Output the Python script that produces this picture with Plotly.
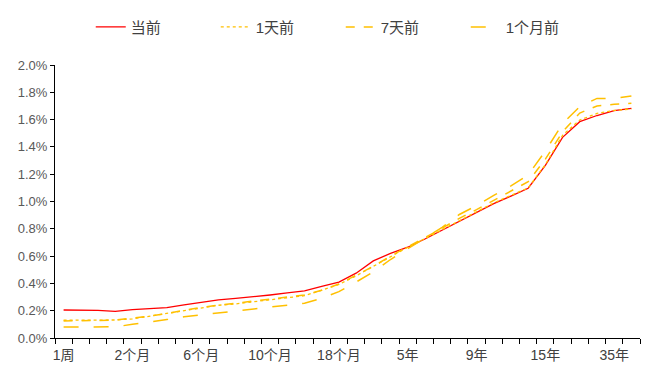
import plotly.graph_objects as go

tenors = ["1周", "2周", "3周", "1个月", "2个月", "3个月", "4个月", "5个月", "6个月", "7个月",
          "8个月", "9个月", "10个月", "11个月", "1年", "15个月", "18个月", "21个月", "2年", "3年",
          "5年", "6年", "7年", "8年", "9年", "10年", "12年", "14年", "15年", "20年",
          "25年", "30年", "35年", "40年"]

# values in %
current = [0.205, 0.205, 0.203, 0.195, 0.208, 0.215, 0.222, 0.242, 0.26, 0.28,
           0.29, 0.30, 0.315, 0.33, 0.345, 0.378, 0.41, 0.475, 0.565, 0.62,
           0.665, 0.725, 0.79, 0.855, 0.92, 0.985, 1.04, 1.097, 1.265, 1.47,
           1.585, 1.63, 1.665, 1.683]
day1 = [0.13, 0.13, 0.13, 0.132, 0.14, 0.16, 0.18, 0.20, 0.22, 0.24,
        0.25, 0.265, 0.28, 0.295, 0.31, 0.35, 0.392, 0.455, 0.525, 0.60,
        0.665, 0.728, 0.793, 0.86, 0.925, 0.99, 1.045, 1.10, 1.27, 1.485,
        1.597, 1.645, 1.667, 1.678]
day7 = [0.125, 0.125, 0.128, 0.132, 0.145, 0.16, 0.18, 0.205, 0.225, 0.24,
        0.255, 0.27, 0.285, 0.30, 0.315, 0.35, 0.395, 0.46, 0.525, 0.60,
        0.665, 0.735, 0.805, 0.877, 0.94, 1.01, 1.075, 1.145, 1.31, 1.51,
        1.648, 1.70, 1.712, 1.72]
month1 = [0.08, 0.08, 0.08, 0.082, 0.10, 0.115, 0.135, 0.155, 0.17, 0.185,
          0.20, 0.215, 0.23, 0.24, 0.255, 0.29, 0.34, 0.41, 0.485, 0.575,
          0.655, 0.73, 0.81, 0.905, 0.97, 1.045, 1.115, 1.194, 1.37, 1.57,
          1.695, 1.755, 1.755, 1.773]

label_every = 4
ticktext = [t if i % label_every == 0 else "" for i, t in enumerate(tenors)]

FONT = "Liberation Sans, Noto Sans CJK SC, sans-serif"
series = [
    ("当前", current, "#FF0000", "solid", 1.3),
    ("1天前", day1, "#FFC000", "dot", 1.3),
    ("7天前", day7, "#FFC000", "dash", 1.5),
    ("1个月前", month1, "#FFC000", "longdash", 1.5),
]

fig = go.Figure()
for name, vals, color, dash, w in series:
    fig.add_trace(go.Scatter(
        x=tenors, y=[v / 100 for v in vals], name=name, mode="lines",
        line=dict(color=color, dash=dash, width=w),
    ))

fig.update_layout(
    width=662, height=384,
    margin=dict(l=47, r=30, t=57, b=54, autoexpand=False),
    paper_bgcolor="white", plot_bgcolor="white",
    font=dict(family=FONT, color="#404040", size=13),
    legend=dict(orientation="h", xref="container", x=0.125, xanchor="left",
                yref="container", y=0.993, yanchor="top",
                entrywidth=80, font=dict(size=15, color="#404040"),
                bgcolor="rgba(0,0,0,0)"),
    showlegend=True,
)
fig.update_xaxes(
    type="category", tickmode="array", tickvals=tenors, ticktext=ticktext,
    tickson="boundaries", ticks="outside", ticklen=5, tickcolor="black",
    showline=True, linecolor="black", linewidth=1, showgrid=False, tickangle=0,
    tickfont=dict(size=14, color="#404040"), range=[-0.5, len(tenors) - 0.5],
    automargin=False, ticklabelstandoff=4,
)
fig.update_yaxes(
    range=[0, 0.02], dtick=0.002, tickformat=".1%",
    ticks="outside", ticklen=4, tickcolor="black",
    showline=True, linecolor="black", linewidth=1, showgrid=False,
    zeroline=False, tickfont=dict(size=13, color="#595959"), automargin=False,
)

fig.write_html("out.html")
